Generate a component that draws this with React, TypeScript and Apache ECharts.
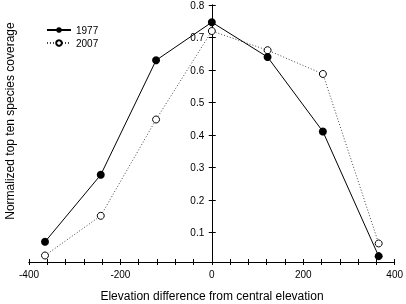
import React, { useEffect, useRef } from "react";
import * as echarts from "echarts";

const elevations = [-365, -243, -122, 0, 122, 243, 365];
const cov1977 = [0.072, 0.278, 0.63, 0.747, 0.64, 0.411, 0.028];
const cov2007 = [0.03, 0.152, 0.448, 0.72, 0.661, 0.588, 0.067];
const yTicks = [0.1, 0.2, 0.3, 0.4, 0.5, 0.6, 0.7, 0.8];
const seriesNames = ["1977", "2007"];
const xTitle = "Elevation difference from central elevation";
const yTitle = "Normalized top ten species coverage";

const FONT = "'Liberation Sans', Arial, Helvetica, sans-serif";
const GRID_L = 29;
const GRID_R = 10.5;
const W = 406;

export default function App() {
  const ref = useRef<HTMLDivElement>(null);
  useEffect(() => {
    if (!ref.current) return;
    const chart = echarts.init(ref.current, null, { renderer: "svg" });
    const pts = (ys: number[]) => elevations.map((x, i) => [x, ys[i]]);
    const xMin = -400;
    const xMax = 400;
    const gridW = W - GRID_L - GRID_R;
    // y axis sits at x = 0, i.e. moved inward from grid's left edge
    const yOffset = -((0 - xMin) / (xMax - xMin)) * gridW;
    const baseX = {
      type: "value",
      min: xMin,
      max: xMax,
      interval: 200,
      position: "bottom",
      axisLine: { show: true, onZero: false, lineStyle: { color: "#000", width: 1 } },
      splitLine: { show: false },
      minorSplitLine: { show: false },
    };
    const baseY = {
      type: "value",
      min: 0.01,
      max: 0.8,
      position: "left",
      offset: yOffset,
      axisLine: { show: true, onZero: false, lineStyle: { color: "#000", width: 1 } },
      splitLine: { show: false },
    };
    chart.setOption({
      animation: false,
      textStyle: { fontFamily: FONT },
      grid: { left: GRID_L, right: GRID_R, top: 5, bottom: 42 },
      legend: {
        orient: "vertical",
        left: 46,
        top: 24,
        padding: 0,
        itemWidth: 24,
        itemHeight: 7,
        itemGap: 1,
        data: seriesNames,
        textStyle: { fontSize: 10, color: "#000", fontFamily: FONT, lineHeight: 12 },
      },
      xAxis: [
        {
          ...baseX,
          axisTick: { show: true, inside: false, length: 3, lineStyle: { color: "#000" } },
          minorTick: { show: true, splitNumber: 5, length: 3, lineStyle: { color: "#000" } },
          axisLabel: { show: true, fontSize: 10, color: "#000", margin: 7, fontFamily: FONT },
        },
        {
          ...baseX,
          axisTick: { show: true, inside: true, length: 3, lineStyle: { color: "#000" } },
          minorTick: { show: true, splitNumber: 5, length: 3, lineStyle: { color: "#000" } },
          axisLabel: { show: false },
        },
      ],
      yAxis: [
        {
          ...baseY,
          axisTick: { show: true, inside: false, length: 3.5, customValues: yTicks, lineStyle: { color: "#000" } },
          axisLabel: { show: true, fontSize: 10, color: "#000", margin: 8, customValues: yTicks, fontFamily: FONT },
        },
        {
          ...baseY,
          axisTick: { show: true, inside: true, length: 3.5, customValues: yTicks, lineStyle: { color: "#000" } },
          axisLabel: { show: false },
        },
      ],
      series: [
        {
          name: seriesNames[0],
          type: "line",
          xAxisIndex: 0,
          yAxisIndex: 0,
          data: pts(cov1977),
          symbol: "circle",
          symbolSize: 8,
          lineStyle: { color: "#000", width: 1, type: "solid" },
          itemStyle: { color: "#000", borderColor: "#000", borderWidth: 0 },
          z: 3,
        },
        {
          name: seriesNames[1],
          type: "line",
          xAxisIndex: 0,
          yAxisIndex: 0,
          data: pts(cov2007),
          symbol: "circle",
          symbolSize: 7,
          lineStyle: { color: "#444", width: 1, type: [1, 2] },
          itemStyle: { color: "#fff", borderColor: "#000", borderWidth: 1 },
          z: 2,
        },
      ],
      graphic: [
        {
          type: "text",
          x: 212,
          y: 296,
          style: {
            text: xTitle,
            fontSize: 12,
            fontFamily: FONT,
            fill: "#000",
            textAlign: "center",
            textVerticalAlign: "middle",
          },
        },
        {
          type: "text",
          x: 10,
          y: 121,
          rotation: Math.PI / 2,
          style: {
            text: yTitle,
            fontSize: 12,
            fontFamily: FONT,
            fill: "#000",
            textAlign: "center",
            textVerticalAlign: "middle",
          },
        },
      ],
    });
    return () => chart.dispose();
  }, []);
  return (
    <div
      ref={ref}
      style={{ position: "fixed", left: 0, top: 0, width: 406, height: 304 }}
    />
  );
}
